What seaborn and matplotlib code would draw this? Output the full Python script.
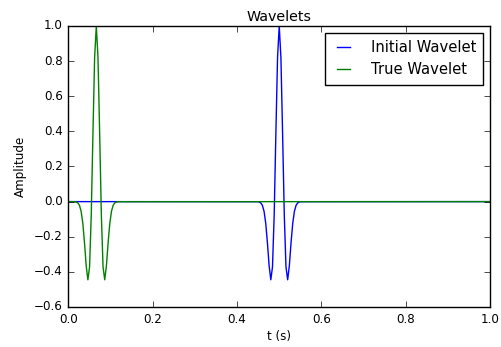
import pandas as pd
import matplotlib
matplotlib.use('Agg')
import matplotlib.pyplot as plt
import seaborn as sns

# wavelet samples (flat zero outside the listed times)
initial_t = [0.0, 0.448, 0.452, 0.456, 0.460, 0.464, 0.468, 0.472, 0.476, 0.480,
             0.484, 0.488, 0.492, 0.496, 0.500, 0.504, 0.508, 0.512, 0.516, 0.520,
             0.524, 0.528, 0.532, 0.536, 0.540, 0.544, 0.548, 0.552, 1.0]
initial_amp = [0.0, -0.0005, -0.0019, -0.0068, -0.021, -0.055, -0.124, -0.235, -0.365, -0.445,
               -0.372, -0.078, 0.384, 0.820, 1.0, 0.820, 0.384, -0.078, -0.372, -0.445,
               -0.365, -0.235, -0.124, -0.055, -0.021, -0.0068, -0.0019, -0.0005, 0.0]

true_t = [0.0, 0.014, 0.018, 0.022, 0.026, 0.030, 0.034, 0.038, 0.042, 0.046,
          0.050, 0.054, 0.058, 0.062, 0.066, 0.070, 0.074, 0.078, 0.082, 0.086,
          0.090, 0.094, 0.098, 0.102, 0.106, 0.110, 0.114, 0.118, 1.0]
true_amp = [0.0, -0.0005, -0.0019, -0.0068, -0.021, -0.055, -0.124, -0.235, -0.365, -0.445,
            -0.372, -0.078, 0.384, 0.820, 1.0, 0.820, 0.384, -0.078, -0.372, -0.445,
            -0.365, -0.235, -0.124, -0.055, -0.021, -0.0068, -0.0019, -0.0005, 0.0]

series_names = ['Initial Wavelet', 'True Wavelet']
series_colors = ['b', 'g']

df = pd.concat([
    pd.DataFrame({'t': initial_t, 'amp': initial_amp, 'wavelet': series_names[0]}),
    pd.DataFrame({'t': true_t, 'amp': true_amp, 'wavelet': series_names[1]}),
], ignore_index=True)

plt.style.use('classic')
plt.rcParams.update({
    'figure.facecolor': 'white',
    'savefig.facecolor': 'white',
    'font.family': ['DejaVu Sans'],
    'font.size': 8.6,
})

fig = plt.figure(figsize=(5.01, 3.47), dpi=100)
ax = fig.add_axes([0.1367, 0.1153, 0.978 - 0.1367, 0.9251 - 0.1153])

sns.lineplot(data=df, x='t', y='amp', hue='wavelet', hue_order=series_names,
             palette=dict(zip(series_names, series_colors)), estimator=None,
             sort=False, linewidth=1.0, ax=ax)

ax.set_xlim(0, 1.0)
ax.set_ylim(-0.6, 1.0)
ax.set_xticks([0.0, 0.2, 0.4, 0.6, 0.8, 1.0])
ax.set_yticks([-0.6, -0.4, -0.2, 0.0, 0.2, 0.4, 0.6, 0.8, 1.0])
ax.tick_params(labelsize=8.6)
ax.set_title('Wavelets', fontsize=10.3, pad=3.5)
ax.set_xlabel('t (s)', fontsize=8.6, labelpad=3)
ax.set_ylabel('Amplitude', fontsize=8.6)
ax.legend(loc='upper right', fontsize=10.6, handlelength=1.5, handletextpad=1.1,
          borderpad=0.5, labelspacing=0.5, borderaxespad=0.45, fancybox=False)

fig.savefig('out.png', dpi=100)
